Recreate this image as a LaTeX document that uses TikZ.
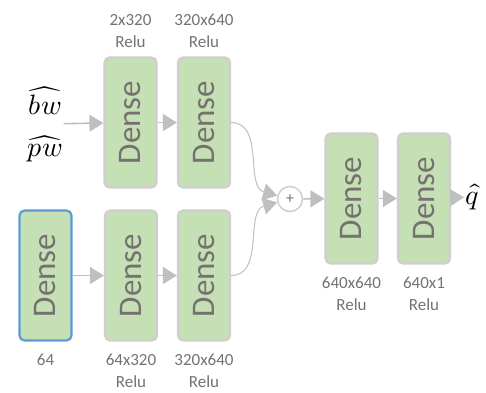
\documentclass[tikz,border=0pt]{standalone}
\usepackage{fontspec}
\usepackage{unicode-math}
\setmainfont{Carlito}
\setmathfont{Latin Modern Math}
\usetikzlibrary{arrows.meta}

\definecolor{densegreen}{HTML}{C5E0B4}
\definecolor{boxgray}{HTML}{D0CECE}
\definecolor{arrowgray}{HTML}{BFBFBF}
\definecolor{textgray}{HTML}{767171}
\definecolor{embblue}{HTML}{5B9BD5}

\begin{document}
\begin{tikzpicture}[
    x = 1pt,
    y = -1pt,
    >={Triangle[length=14pt,width=17pt]},
    dense/.style = {
      draw = boxgray,
      fill = densegreen,
      line width = 2.2pt,
      rounded corners = 5pt,
      minimum width = 52pt,
      minimum height = 130pt,
      inner sep = 0pt,
      text = textgray,
      font = \fontsize{33}{33}\selectfont
    },
    lbl/.style = {
      align = center,
      text = textgray,
      font = \fontsize{17}{22}\selectfont
    },
    flow/.style = {
      ->,
      draw = arrowgray,
      line width = 1.6pt
    },
    mergeline/.style = {
      ->,
      draw = arrowgray,
      line width = 1pt
    }
  ]
  \useasboundingbox (0,0) rectangle (486,392);

  % upper branch
  \node[align=center, font=\fontsize{28}{42}\selectfont, inner sep=1pt] (in) at (45,124)
    {$\widehat{bw}$\\$\widehat{pw}$};
  \node[dense] (d11) at (130.5,122.5) {\rotatebox{90}{Dense}};
  \node[dense] (d12) at (204,122.5) {\rotatebox{90}{Dense}};
  \node[lbl] (t11) at (130.5,31) {2x320\\Relu};
  \node[lbl] (t12) at (204,31) {320x640\\Relu};

  % lower branch
  \node[dense, draw=embblue] (emb) at (45.5,275.5) {\rotatebox{90}{Dense}};
  \node[dense] (d21) at (131,275.5) {\rotatebox{90}{Dense}};
  \node[dense] (d22) at (204,275.5) {\rotatebox{90}{Dense}};
  \node[lbl] (temb) at (45.5,360) {64};
  \node[lbl] (t21) at (131,371) {64x320\\Relu};
  \node[lbl] (t22) at (204,371) {320x640\\Relu};

  % merge and head
  \node[circle, draw=boxgray, fill=white, line width=1.5pt, minimum size=25pt,
    inner sep=0pt, text=textgray, font=\fontsize{16}{16}\selectfont] (add) at (290,199) {+};
  \node[dense] (d3) at (351.5,198.5) {\rotatebox{90}{Dense}};
  \node[dense] (d4) at (424,198.5) {\rotatebox{90}{Dense}};
  \node[lbl] (t3) at (351.5,294) {640x640\\Relu};
  \node[lbl] (t4) at (424,294) {640x1\\Relu};
  \node[font=\fontsize{28}{28}\selectfont, inner sep=1pt] (q) at (472,197) {$\hat{q}$};

  \draw[flow] (in) -- (d11);
  \draw[flow] (d11) -- (d12);
  \draw[flow] (emb) -- (d21);
  \draw[flow] (d21) -- (d22);

  \draw[mergeline] (d12.east) to[out=0, in=165] (add.165);
  \draw[mergeline] (d22.east) to[out=0, in=195] (add.195);

  \draw[flow] (add) -- (d3);
  \draw[flow] (d3) -- (d4);
  \draw[flow] (d4) -- (q);
\end{tikzpicture}
\end{document}
